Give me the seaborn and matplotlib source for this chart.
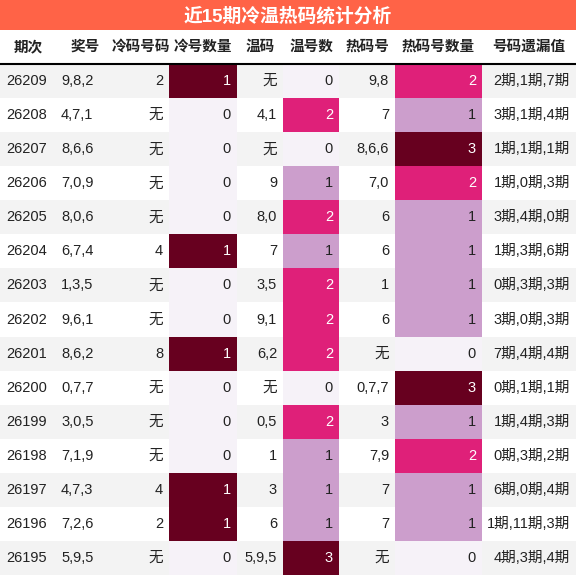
import matplotlib
matplotlib.use("Agg")
import matplotlib.pyplot as plt
import seaborn as sns
import numpy as np

sns.set_theme(style="white")
plt.rcParams['font.family'] = ['Liberation Sans', 'Noto Sans CJK SC', 'DejaVu Sans']

title = "近15期冷温热码统计分析"
headers = ["期次", "奖号", "冷码号码", "冷号数量", "温码", "温号数", "热码号", "热码号数量", "号码遗漏值"]
periods = ["26209","26208","26207","26206","26205","26204","26203","26202","26201","26200","26199","26198","26197","26196","26195"]
draws = ["9,8,2","4,7,1","8,6,6","7,0,9","8,0,6","6,7,4","1,3,5","9,6,1","8,6,2","0,7,7","3,0,5","7,1,9","4,7,3","7,2,6","5,9,5"]
cold_codes = ["2","无","无","无","无","4","无","无","8","无","无","无","4","2","无"]
cold_count = [1,0,0,0,0,1,0,0,1,0,0,0,1,1,0]
warm_codes = ["无","4,1","无","9","8,0","7","3,5","9,1","6,2","无","0,5","1","3","6","5,9,5"]
warm_count = [0,2,0,1,2,1,2,2,2,0,2,1,1,1,3]
hot_codes = ["9,8","7","8,6,6","7,0","6","6","1","6","无","0,7,7","3","7,9","7","7","无"]
hot_count = [2,1,3,2,1,1,1,1,0,3,1,2,1,1,0]
missing = ["2期,1期,7期","3期,1期,4期","1期,1期,1期","1期,0期,3期","3期,4期,0期","1期,3期,6期","0期,3期,3期",
           "3期,0期,3期","7期,4期,4期","0期,1期,1期","1期,4期,3期","0期,3期,2期","6期,0期,4期","1期,11期,3期","4期,3期,4期"]

columns = [periods, draws, cold_codes, cold_count, warm_codes, warm_count, hot_codes, hot_count, missing]
edges = [0, 57, 113, 169, 237, 283, 339, 395, 482, 576]
scale_cols = {3: 1, 5: 3, 7: 3}
pal = ['#f6f2f8', '#cc9ecc', '#df2079', '#67001f']

W, H = 576, 575
fig = plt.figure(figsize=(5.76, 5.75), dpi=100)
ax = fig.add_axes([0, 0, 1, 1])
ax.set_xlim(0, W); ax.set_ylim(H, 0); ax.axis('off')

title_h, head_h = 30, 34
row_h = (H - title_h - head_h) / len(periods)

ax.bar(W/2, title_h, width=W, bottom=0, color='#ff6347', linewidth=0)
ax.text(W/2, title_h/2 + 1, title, color='white', fontsize=13.5, fontweight='bold', ha='center', va='center')

for j, h in enumerate(headers):
    ax.text((edges[j]+edges[j+1])/2, title_h + head_h/2, h, fontsize=10.5, fontweight='bold', ha='center', va='center', color='#222222')
ax.plot([0, W], [title_h+head_h, title_h+head_h], color='black', lw=1.5)

for i in range(len(periods)):
    y0 = title_h + head_h + i*row_h
    bg = '#f3f3f3' if i % 2 == 0 else 'white'
    ax.bar(W/2, row_h, width=W, bottom=y0, color=bg, linewidth=0)
    for j, col in enumerate(columns):
        v = col[i]
        x0, x1 = edges[j], edges[j+1]
        tc = '#222222'
        if j in scale_cols:
            idx = int(round(v / scale_cols[j] * 3))
            ax.bar((x0+x1)/2, row_h, width=x1-x0, bottom=y0, color=pal[idx], linewidth=0)
            if idx >= 2:
                tc = 'white'
        if j in (0, 1):
            ax.text(x0 + 6 if j == 0 else x0 + 4, y0 + row_h/2, str(v), fontsize=10.5, ha='left', va='center', color=tc)
        else:
            ax.text(x1 - 6, y0 + row_h/2, str(v), fontsize=10.5, ha='right', va='center', color=tc)

fig.savefig("out.png", dpi=100)
